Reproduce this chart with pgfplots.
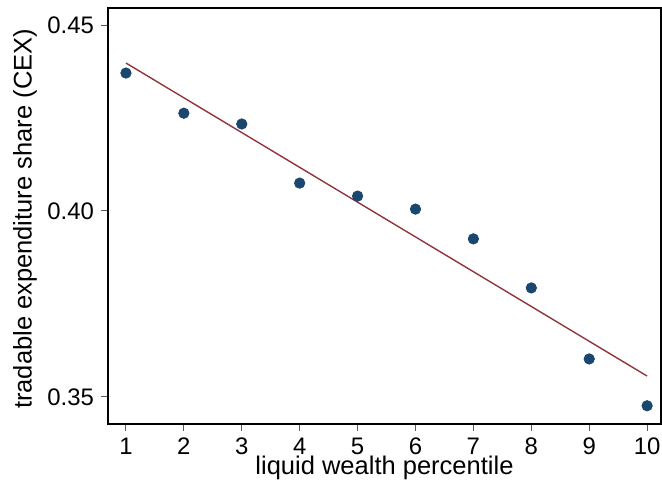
\documentclass[border=0pt]{standalone}
\usepackage{pgfplots}
\pgfplotsset{compat=1.18}
\usepackage{fontspec}
\setmainfont{Liberation Sans}
\definecolor{navy}{HTML}{1A476F}
\definecolor{maroon}{HTML}{90353B}
\begin{document}
\begin{tikzpicture}
\begin{axis}[
  scale only axis,
  width=276.5bp, height=208bp,
  xmin=0.69, xmax=10.24,
  ymin=0.3427, ymax=0.4546,
  xtick={1,...,10},
  ytick={0.35,0.40,0.45},
  yticklabels={0.35,0.40,0.45},
  /pgf/number format/assume math mode=true,
  tick label style={font=\fontsize{12}{14}\selectfont},
  tick align=outside,
  major tick length=3.5bp,
  every tick/.style={gray!70!black, line width=0.5pt},
  xtick pos=bottom, ytick pos=left,
  axis line style={black, line width=0.6pt},
  xlabel={\fontsize{12.8}{15}\selectfont liquid wealth percentile},
  ylabel={\fontsize{12.8}{15}\selectfont tradable expenditure share (CEX)},
  xlabel style={at={(axis description cs:0.5,-0.106)}, anchor=center},
  ylabel style={at={(axis description cs:-0.150,0.493)}, anchor=center},
]
\addplot[only marks, mark=*, mark size=2.6bp, navy, mark options={draw=navy, fill=navy}] coordinates {
(1,0.4371) (2,0.4263) (3,0.4234) (4,0.4075) (5,0.4040) (6,0.4005) (7,0.3925) (8,0.3793) (9,0.3602) (10,0.3476)
};
\addplot[maroon, line width=0.7pt] coordinates {(1,0.4398) (10,0.3556)};
\end{axis}
\pgfresetboundingbox
\path[use as bounding box] ([xshift=-54bp,yshift=-30.5bp]current axis.south west) rectangle ([xshift=0.5bp,yshift=4bp]current axis.north east);
\end{tikzpicture}
\end{document}
